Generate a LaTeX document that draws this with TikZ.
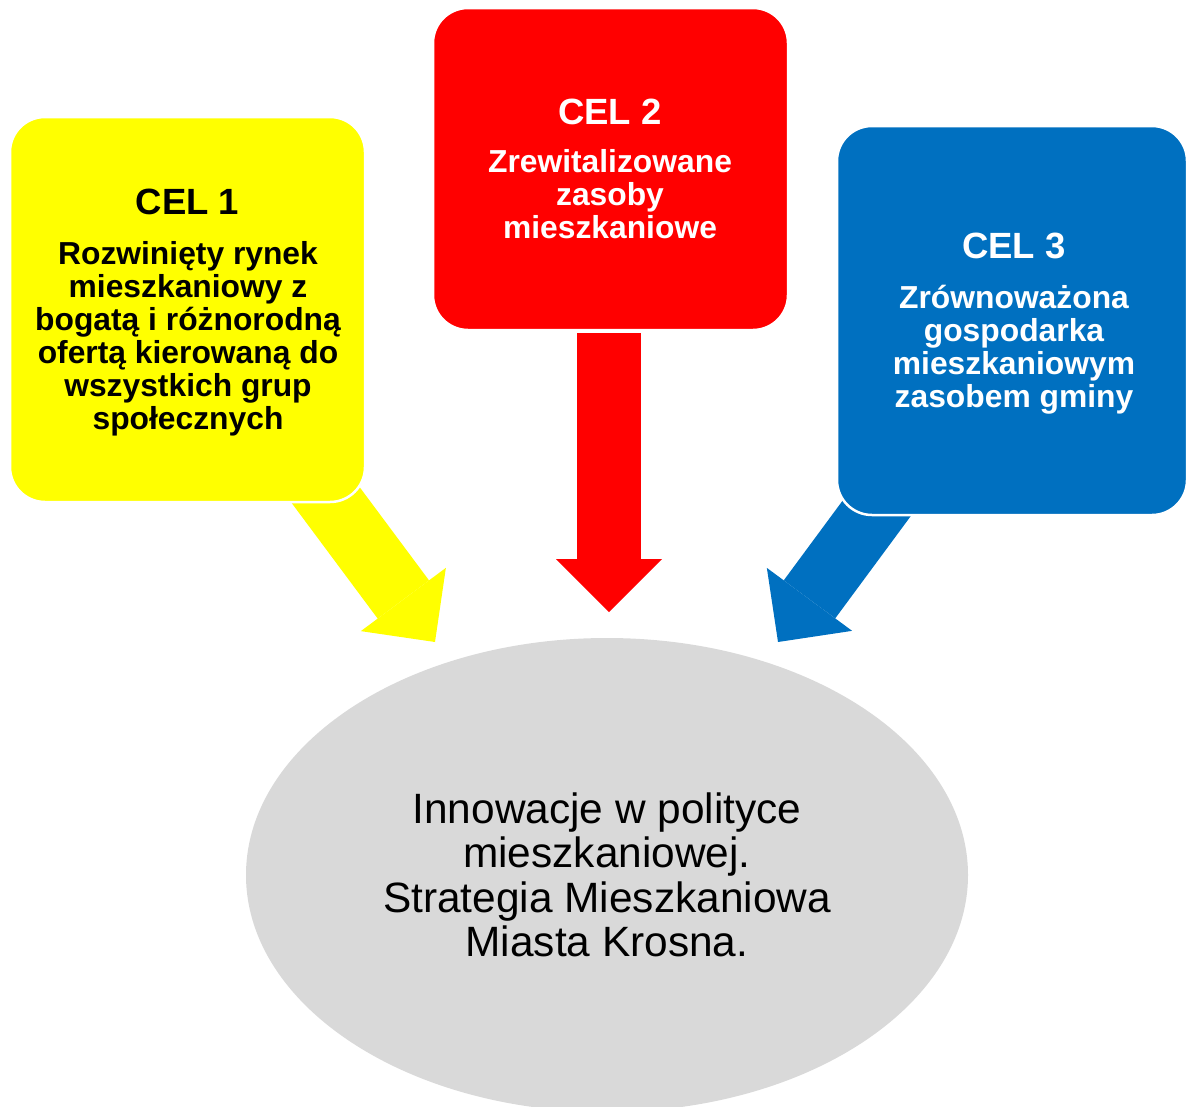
\documentclass[tikz,border=0pt]{standalone}
\usepackage{fontspec}
\setmainfont{Liberation Sans}
\usetikzlibrary{arrows.meta,shapes.geometric}
\definecolor{celyellow}{HTML}{FFFF00}
\definecolor{celred}{HTML}{FF0000}
\definecolor{celblue}{HTML}{0070C0}
\definecolor{goalgrey}{HTML}{D9D9D9}
\begin{document}
\begin{tikzpicture}[x=1pt,y=-1pt,
  celbox/.style={rectangle, rounded corners=35pt, draw=white, line width=2.5pt, inner sep=0pt},
  titletext/.style={font=\fontsize{36.5}{40}\selectfont\bfseries, anchor=base, inner sep=0pt},
  bodytext/.style={font=\fontsize{31.8}{33}\selectfont\bfseries, align=center, inner sep=0pt},
  blockarrow/.style={draw=#1, line width=64pt, line cap=butt,
    -{Triangle[length=53pt,width=106pt,line width=0pt]}}]
\useasboundingbox (0,0) rectangle (1186,1106);

% arrows (under the boxes)
\coordinate (a1s) at (307,470);
\coordinate (a1t) at (435,642);
\coordinate (a2s) at (609,333);
\coordinate (a2t) at (609,612);
\coordinate (a3s) at (905,470);
\coordinate (a3t) at (778,642);

% goal ellipse
\node[ellipse, fill=goalgrey, minimum width=722pt, minimum height=474pt, inner sep=0pt,
      align=center, font=\fontsize{42.4}{44.5}\selectfont] (goal) at (607,875)
  {Innowacje w polityce\\mieszkaniowej.\\Strategia Mieszkaniowa\\Miasta Krosna.};

\draw[blockarrow=celyellow] (a1s) -- (a1t);
\draw[blockarrow=celred] (a2s) -- (a2t);
\draw[blockarrow=celblue] (a3s) -- (a3t);

% boxes
\node[celbox, fill=celyellow, minimum width=355pt, minimum height=385pt] (box1) at (187.5,309.5) {};
\node[celbox, fill=celred, minimum width=355pt, minimum height=322pt] (box2) at (610.5,169) {};
\node[celbox, fill=celblue, minimum width=350pt, minimum height=389pt] (box3) at (1012,320.5) {};

% texts
\node[titletext, text=black] (t1) at (187.5,214) {CEL 1};
\node[bodytext, text=black] (b1) at (188,338.6)
  {Rozwinięty rynek\\mieszkaniowy z\\bogatą i różnorodną\\ofertą kierowaną do\\wszystkich grup\\społecznych};
\node[titletext, text=white] (t2) at (610,124) {CEL 2};
\node[bodytext, text=white] (b2) at (610,193.8)
  {Zrewitalizowane\\zasoby\\mieszkaniowe};
\node[titletext, text=white] (t3) at (1014,258) {CEL 3};
\node[bodytext, text=white] (b3) at (1014,349.4)
  {Zrównoważona\\gospodarka\\mieszkaniowym\\zasobem gminy};
\end{tikzpicture}
\end{document}
